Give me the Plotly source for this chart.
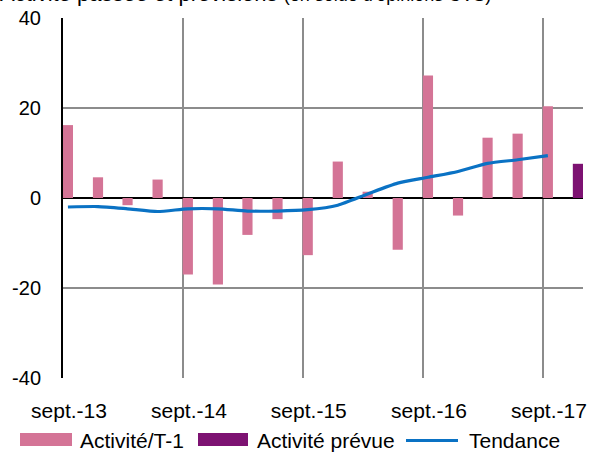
import plotly.graph_objects as go

# Quarterly periods (month of observation)
periods = ["2013-09", "2013-12", "2014-03", "2014-06", "2014-09", "2014-12",
           "2015-03", "2015-06", "2015-09", "2015-12", "2016-03", "2016-06",
           "2016-09", "2016-12", "2017-03", "2017-06", "2017-09"]
activite_t1 = [16.2, 4.6, -1.6, 4.1, -17.0, -19.2, -8.2, -4.7, -12.7, 8.1,
               1.4, -11.5, 27.2, -3.9, 13.4, 14.3, 20.4]
tendance = [-2.0, -1.9, -2.4, -3.0, -2.4, -2.4, -2.9, -2.9, -2.6, -1.6,
            0.9, 3.3, 4.6, 5.9, 7.7, 8.5, 9.4]
prevue_period = ["2017-12"]
activite_prevue = [7.6]

tick_dates = ["2013-09-01", "2014-09-01", "2015-09-01", "2016-09-01", "2017-09-01"]
tick_labels = ["sept.-13", "sept.-14", "sept.-15", "sept.-16", "sept.-17"]
y_ticks = [-40, -20, 0, 20, 40]
y_tick_labels = ["-40", "-20", "0", "20", "40"]

series_names = ["Activité/T-1", "Activité prévue", "Tendance"]
title_main = "Activité passée et prévisions"
title_sub = "(en solde d'opinions CVS)"

PINK = "#D47496"
PURPLE = "#7D1272"
BLUE = "#0A72C4"
GRID = "#8C8C8C"
FONT = "Liberation Sans, Arial, sans-serif"
DAY_MS = 86400000

fig = go.Figure()
fig.add_trace(go.Bar(x=periods, y=activite_t1, xperiod="M1", xperiodalignment="middle",
                     width=31 * DAY_MS, marker=dict(color=PINK, line=dict(width=0)),
                     name=series_names[0], showlegend=False))
fig.add_trace(go.Bar(x=prevue_period, y=activite_prevue, xperiod="M1", xperiodalignment="middle",
                     width=31 * DAY_MS, marker=dict(color=PURPLE, line=dict(width=0)),
                     name=series_names[1], showlegend=False))
fig.add_trace(go.Scatter(x=periods, y=tendance, xperiod="M1", xperiodalignment="middle",
                         mode="lines", line=dict(color=BLUE, width=3.2, shape="spline", smoothing=0.6),
                         name=series_names[2], showlegend=False))

# Custom legend (layout elements in paper coordinates)
def px_x(p):
    return (p - 63) / 520.0

def px_y(p):
    return (378 - p) / 360.0

shapes = [
    dict(type="rect", xref="paper", yref="paper", x0=px_x(20), x1=px_x(72), y0=px_y(446), y1=px_y(433),
         fillcolor=PINK, line=dict(width=0), layer="above"),
    dict(type="rect", xref="paper", yref="paper", x0=px_x(198), x1=px_x(248), y0=px_y(446), y1=px_y(433),
         fillcolor=PURPLE, line=dict(width=0), layer="above"),
    dict(type="line", xref="paper", yref="paper", x0=px_x(406), x1=px_x(458), y0=px_y(440.5), y1=px_y(440.5),
         line=dict(color=BLUE, width=3.2), layer="above"),
]
legend_text_x = [78, 255, 467]
annotations = [
    dict(text=name, xref="paper", yref="paper", x=px_x(tx), y=px_y(440), xanchor="left", yanchor="middle",
         showarrow=False, font=dict(size=21, family=FONT, color="black"))
    for name, tx in zip(series_names, legend_text_x)
]
annotations.append(dict(
    text=title_main + " <span style='font-size:18px'>" + title_sub + "</span>",
    xref="paper", yref="paper", x=px_x(-2), y=1.0, xanchor="left", yanchor="bottom",
    yshift=10, showarrow=False, font=dict(size=22, family=FONT, color="black")))

fig.update_layout(
    width=599, height=452,
    margin=dict(l=63, r=16, t=18, b=74, autoexpand=False),
    paper_bgcolor="white", plot_bgcolor="white",
    font=dict(family=FONT, size=20, color="black"),
    barmode="overlay",
    showlegend=False,
    shapes=shapes,
    annotations=annotations,
)
fig.update_xaxes(type="date", range=["2013-09-01", "2018-01-01"],
                 tickvals=tick_dates, ticktext=tick_labels, tickangle=0,
                 tickfont=dict(size=21),
                 showgrid=True, gridcolor=GRID, gridwidth=2,
                 showline=False, ticks="", ticklabelstandoff=18, ticklabelshift=6,
                 zeroline=False, automargin=False)
fig.update_yaxes(range=[-40, 40], tickvals=y_ticks, ticktext=y_tick_labels,
                 tickfont=dict(size=20),
                 showgrid=True, gridcolor=GRID, gridwidth=2,
                 zeroline=True, zerolinecolor="black", zerolinewidth=2,
                 showline=True, linecolor="black", linewidth=2, ticks="",
                 ticklabelstandoff=16, automargin=False)

fig.write_html("out.html", config={"displayModeBar": False},
               post_script="document.body.style.margin='0';document.body.style.overflow='hidden';")
